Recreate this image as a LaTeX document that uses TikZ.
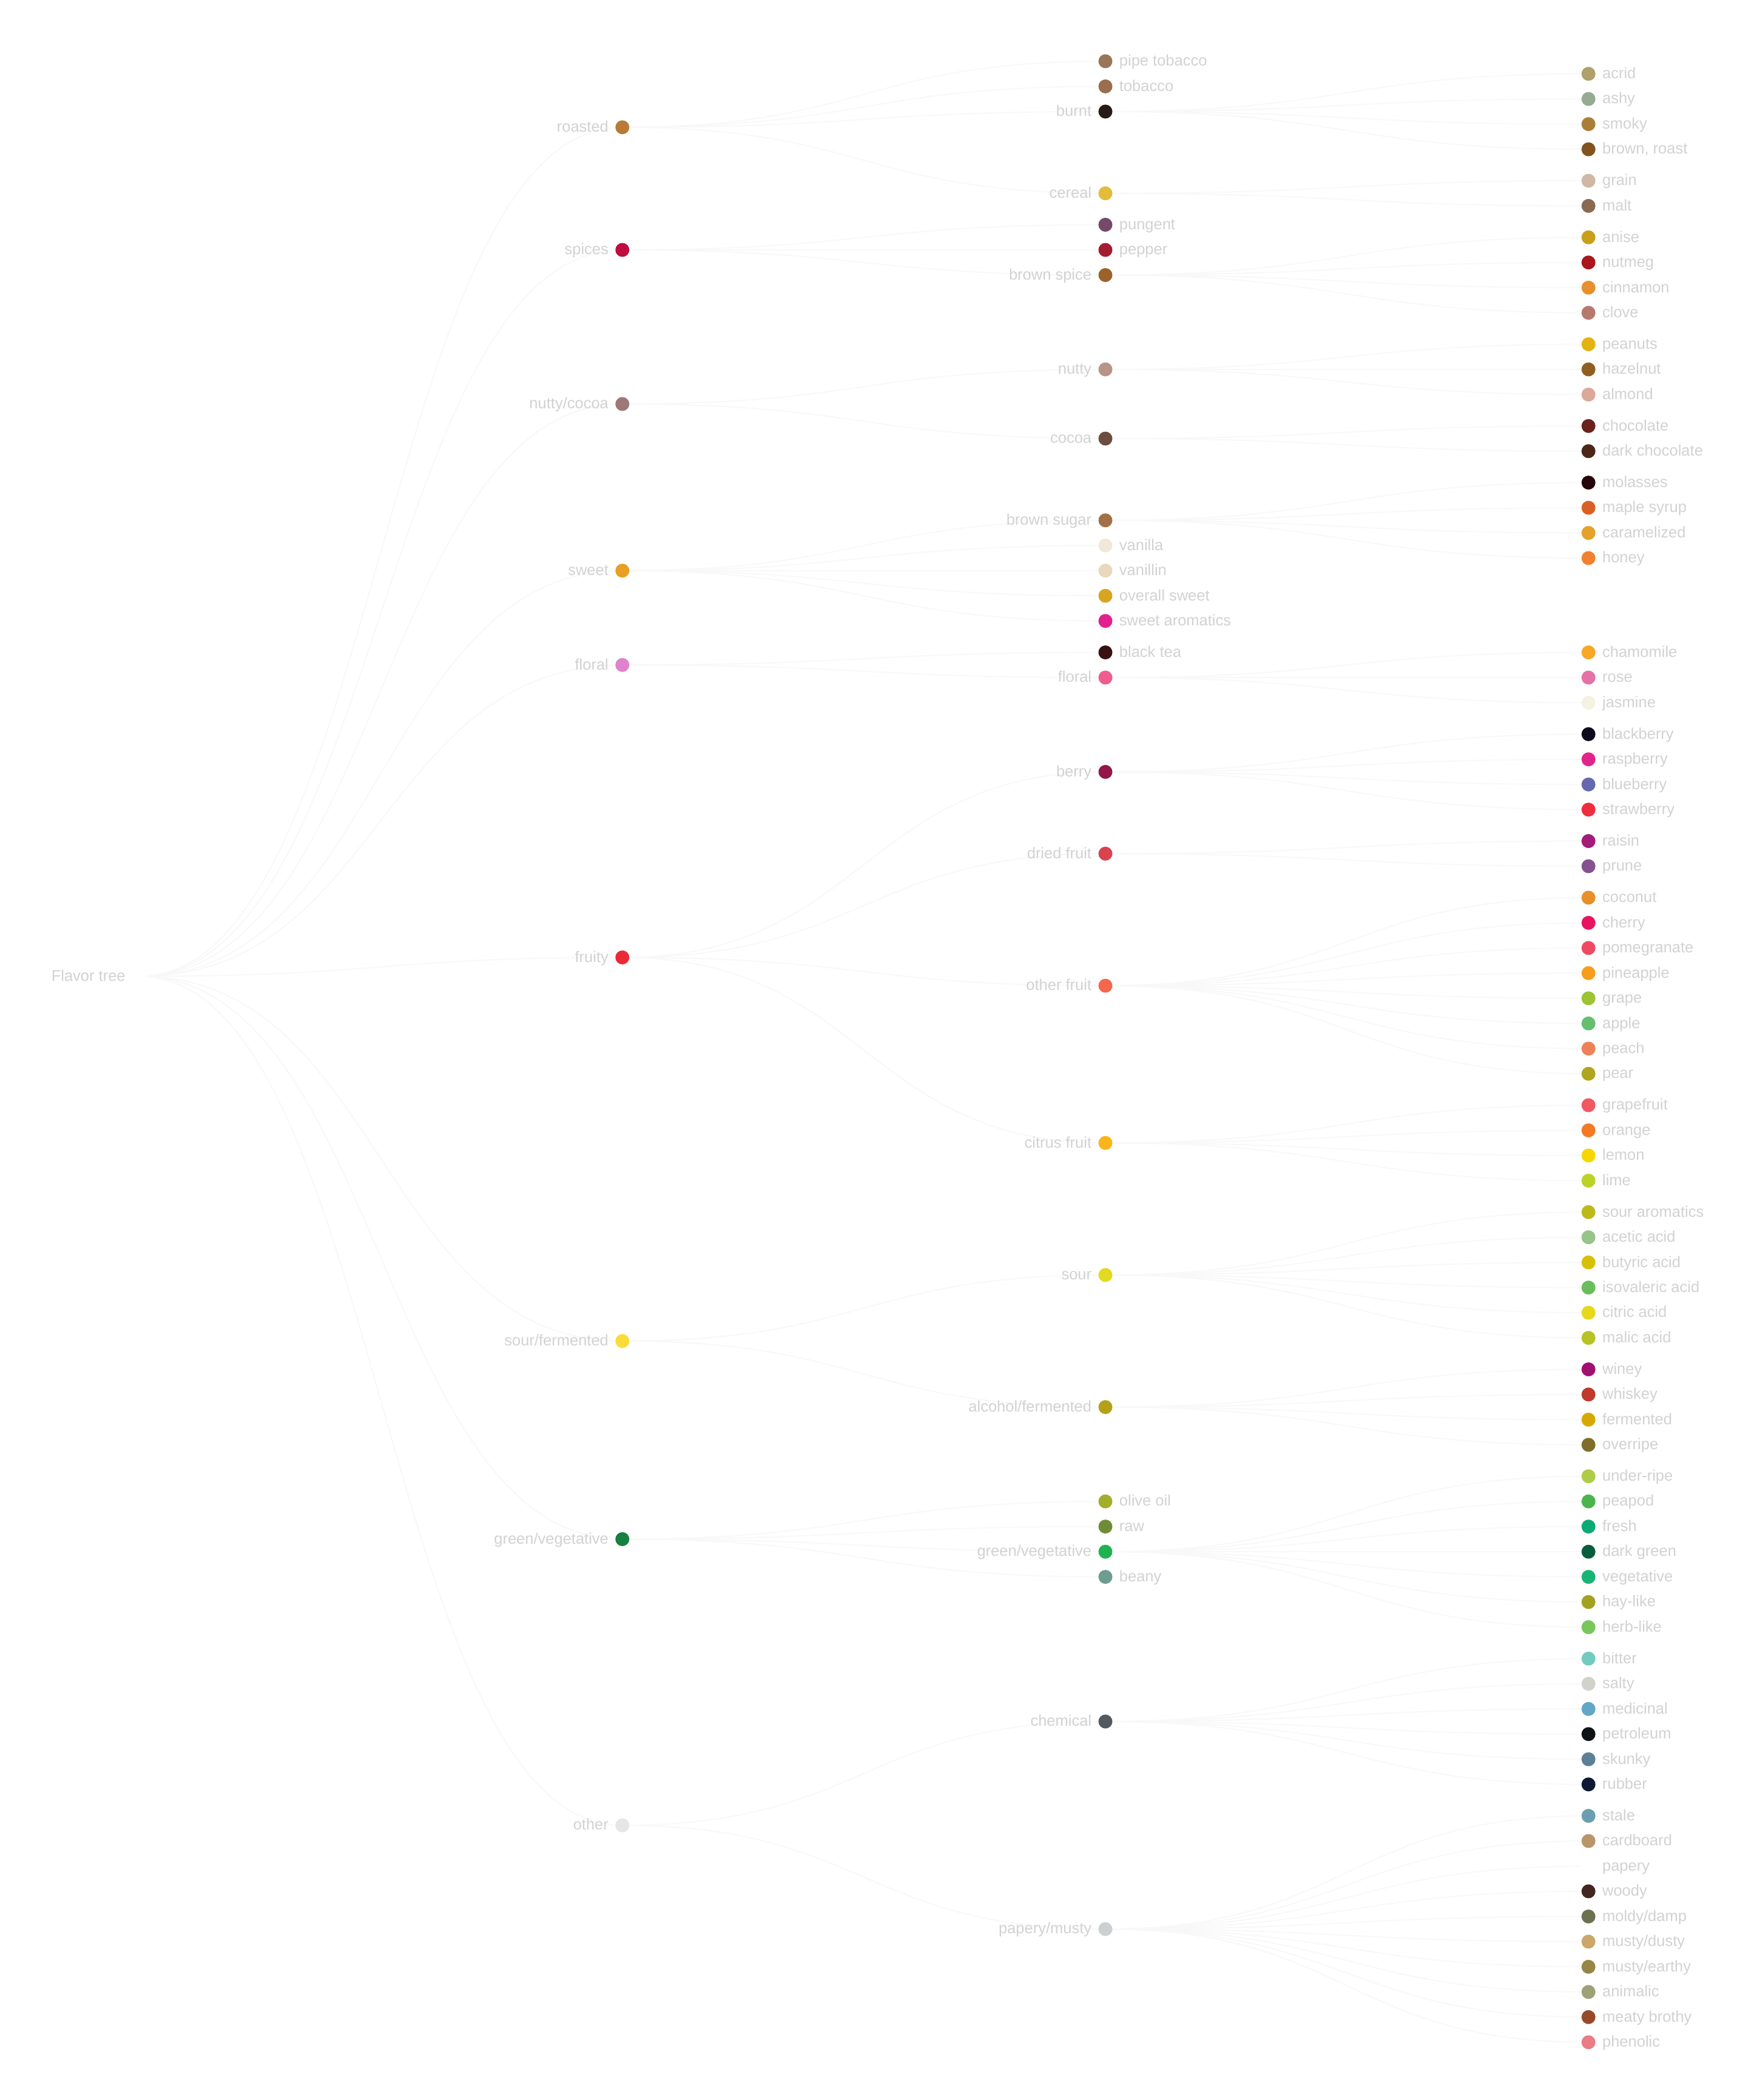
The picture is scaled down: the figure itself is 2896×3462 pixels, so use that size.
\documentclass[tikz,border=0pt]{standalone}
\usepackage{fontspec}
\setmainfont{Liberation Sans}
\usetikzlibrary{backgrounds}
\definecolor{textgray}{HTML}{D2D2D2}
\definecolor{linkgray}{HTML}{F8F8F8}
\def\YA{121.7}
\def\S{41.47}
\def\G{51.84}
\def\xR{229.6}
\def\xA{1025.8}
\def\xB{1822}
\def\xC{2618.2}
\tikzset{
  dot/.style={circle, minimum size=23pt, inner sep=0pt, draw=none},
  lbl/.style={font=\fontsize{25.5}{30}\selectfont, text=textgray, inner sep=0pt},
  link/.style={draw=linkgray, line width=2pt},
}
% right-labelled node: name, x, n, m, colour, text
\newcommand\nR[6]{\definecolor{c#1}{HTML}{#5}%
  \node[dot, fill=c#1] (#1) at (#2,{\YA+(#3)*\S+(#4)*\G}) {};%
  \node[lbl, anchor=base west] (#1t) at ([xshift=22.7pt,yshift=-7.8pt]#1.center) {#6};}
% left-labelled node
\newcommand\nL[6]{\definecolor{c#1}{HTML}{#5}%
  \node[dot, fill=c#1] (#1) at (#2,{\YA+(#3)*\S+(#4)*\G}) {};%
  \node[lbl, anchor=base east] (#1t) at ([xshift=-22.7pt,yshift=-7.8pt]#1.center) {#6};}
\newcommand\lk[2]{\draw[link] (#1.center) .. controls +(398,0) and +(-398,0) .. (#2.center);}
\begin{document}
\begin{tikzpicture}[x=1pt, y=-1pt]
\useasboundingbox (0,0) rectangle (2896,3462);
% root
\nL{root}{\xR}{26.5}{7.5}{FFFFFF}{Flavor tree}
% level 1
\nL{roasted}{\xA}{1.5}{0.5}{B97A3A}{roasted}
\nL{spices}{\xA}{4.5}{2}{BF0D41}{spices}
\nL{nuttycocoa}{\xA}{8.75}{3.5}{9E7877}{nutty/cocoa}
\nL{sweet}{\xA}{13.5}{5}{E99E24}{sweet}
\nL{floralA}{\xA}{16}{6}{E083CE}{floral}
\nL{fruity}{\xA}{24.5}{8.5}{EC2A37}{fruity}
\nL{sourferm}{\xA}{36}{11.5}{F9DC3A}{sour/fermented}
\nL{greenA}{\xA}{42}{13}{177F3F}{green/vegetative}
\nL{other}{\xA}{51.5}{14.5}{E6E6E6}{other}
% level 2
\nR{pipetob}{\xB}{-0.5}{0}{997756}{pipe tobacco}
\nR{tobacco}{\xB}{0.5}{0}{9A6E4F}{tobacco}
\nL{burnt}{\xB}{1.5}{0}{281A17}{burnt}
\nL{cereal}{\xB}{3.5}{1}{E2BC3A}{cereal}
\nR{pungent}{\xB}{3.5}{2}{744A68}{pungent}
\nR{pepper}{\xB}{4.5}{2}{A31C31}{pepper}
\nL{brownspice}{\xB}{5.5}{2}{9B622B}{brown spice}
\nL{nutty}{\xB}{8}{3}{B69488}{nutty}
\nL{cocoa}{\xB}{9.5}{4}{6B4D40}{cocoa}
\nL{brownsugar}{\xB}{11.5}{5}{A37147}{brown sugar}
\nR{vanilla}{\xB}{12.5}{5}{F0E8D8}{vanilla}
\nR{vanillin}{\xB}{13.5}{5}{E9D8BE}{vanillin}
\nR{overallsweet}{\xB}{14.5}{5}{D9A521}{overall sweet}
\nR{sweetarom}{\xB}{15.5}{5}{E22190}{sweet aromatics}
\nR{blacktea}{\xB}{15.5}{6}{3A1111}{black tea}
\nL{floralB}{\xB}{16.5}{6}{EF5C8E}{floral}
\nL{berry}{\xB}{19}{7}{941749}{berry}
\nL{dried}{\xB}{21}{8}{D9434E}{dried fruit}
\nL{otherfruit}{\xB}{25}{9}{F4674A}{other fruit}
\nL{citrus}{\xB}{30}{10}{FAB51C}{citrus fruit}
\nL{sour}{\xB}{34}{11}{E2D921}{sour}
\nL{alcohol}{\xB}{38}{12}{B4A117}{alcohol/fermented}
\nR{oliveoil}{\xB}{40.5}{13}{A3AE2A}{olive oil}
\nR{raw}{\xB}{41.5}{13}{6E8C38}{raw}
\nL{greenB}{\xB}{42.5}{13}{20B251}{green/vegetative}
\nR{beany}{\xB}{43.5}{13}{6E9D90}{beany}
\nL{chemical}{\xB}{48}{14}{525A5F}{chemical}
\nL{papery}{\xB}{55}{15}{CDD0D1}{papery/musty}
% level 3
\nR{acrid}{\xC}{0}{0}{B0A06B}{acrid}
\nR{ashy}{\xC}{1}{0}{96AB92}{ashy}
\nR{smoky}{\xC}{2}{0}{AB7E37}{smoky}
\nR{brownroast}{\xC}{3}{0}{80531F}{brown, roast}
\nR{grain}{\xC}{3}{1}{CFB8A5}{grain}
\nR{malt}{\xC}{4}{1}{8A6A50}{malt}
\nR{anise}{\xC}{4}{2}{C99F1B}{anise}
\nR{nutmeg}{\xC}{5}{2}{A8171C}{nutmeg}
\nR{cinnamon}{\xC}{6}{2}{E8902E}{cinnamon}
\nR{clove}{\xC}{7}{2}{B57A6D}{clove}
\nR{peanuts}{\xC}{7}{3}{E3B311}{peanuts}
\nR{hazelnut}{\xC}{8}{3}{915E22}{hazelnut}
\nR{almond}{\xC}{9}{3}{DCA899}{almond}
\nR{chocolate}{\xC}{9}{4}{6A231C}{chocolate}
\nR{darkchoc}{\xC}{10}{4}{4B2619}{dark chocolate}
\nR{molasses}{\xC}{10}{5}{24060B}{molasses}
\nR{maple}{\xC}{11}{5}{DA5F25}{maple syrup}
\nR{caramelized}{\xC}{12}{5}{E3A22A}{caramelized}
\nR{honey}{\xC}{13}{5}{F2812F}{honey}
\nR{chamomile}{\xC}{15.5}{6}{F8A826}{chamomile}
\nR{rose}{\xC}{16.5}{6}{E472A7}{rose}
\nR{jasmine}{\xC}{17.5}{6}{F4F2E0}{jasmine}
\nR{blackberry}{\xC}{17.5}{7}{0D0C1C}{blackberry}
\nR{raspberry}{\xC}{18.5}{7}{E2258A}{raspberry}
\nR{blueberry}{\xC}{19.5}{7}{6569AF}{blueberry}
\nR{strawberry}{\xC}{20.5}{7}{EF2D3E}{strawberry}
\nR{raisin}{\xC}{20.5}{8}{A21C7A}{raisin}
\nR{prune}{\xC}{21.5}{8}{84538F}{prune}
\nR{coconut}{\xC}{21.5}{9}{E68F2B}{coconut}
\nR{cherry}{\xC}{22.5}{9}{E91460}{cherry}
\nR{pomegranate}{\xC}{23.5}{9}{EE4B63}{pomegranate}
\nR{pineapple}{\xC}{24.5}{9}{F69D1E}{pineapple}
\nR{grape}{\xC}{25.5}{9}{9CC433}{grape}
\nR{apple}{\xC}{26.5}{9}{65BF6E}{apple}
\nR{peach}{\xC}{27.5}{9}{EF8159}{peach}
\nR{pear}{\xC}{28.5}{9}{B0A51E}{pear}
\nR{grapefruit}{\xC}{28.5}{10}{F05862}{grapefruit}
\nR{orange}{\xC}{29.5}{10}{F47922}{orange}
\nR{lemon}{\xC}{30.5}{10}{F6D600}{lemon}
\nR{lime}{\xC}{31.5}{10}{BDD227}{lime}
\nR{souraro}{\xC}{31.5}{11}{BDB91C}{sour aromatics}
\nR{acetic}{\xC}{32.5}{11}{98C38A}{acetic acid}
\nR{butyric}{\xC}{33.5}{11}{D6C106}{butyric acid}
\nR{isovaleric}{\xC}{34.5}{11}{6ABD5B}{isovaleric acid}
\nR{citric}{\xC}{35.5}{11}{E6D81A}{citric acid}
\nR{malic}{\xC}{36.5}{11}{B7C324}{malic acid}
\nR{winey}{\xC}{36.5}{12}{A11071}{winey}
\nR{whiskey}{\xC}{37.5}{12}{BF3A2C}{whiskey}
\nR{fermented}{\xC}{38.5}{12}{D6A804}{fermented}
\nR{overripe}{\xC}{39.5}{12}{7F6D2A}{overripe}
\nR{underripe}{\xC}{39.5}{13}{AECC45}{under-ripe}
\nR{peapod}{\xC}{40.5}{13}{4BB44C}{peapod}
\nR{fresh}{\xC}{41.5}{13}{0AAA74}{fresh}
\nR{darkgreen}{\xC}{42.5}{13}{0A5D3C}{dark green}
\nR{vegetative}{\xC}{43.5}{13}{19B474}{vegetative}
\nR{haylike}{\xC}{44.5}{13}{A4A122}{hay-like}
\nR{herblike}{\xC}{45.5}{13}{79C65A}{herb-like}
\nR{bitter}{\xC}{45.5}{14}{72CBBF}{bitter}
\nR{salty}{\xC}{46.5}{14}{D1D3CB}{salty}
\nR{medicinal}{\xC}{47.5}{14}{62A7C6}{medicinal}
\nR{petroleum}{\xC}{48.5}{14}{0E1415}{petroleum}
\nR{skunky}{\xC}{49.5}{14}{5C8096}{skunky}
\nR{rubber}{\xC}{50.5}{14}{0E1A33}{rubber}
\nR{stale}{\xC}{50.5}{15}{6C9EB1}{stale}
\nR{cardboard}{\xC}{51.5}{15}{B9956A}{cardboard}
\nR{paperyleaf}{\xC}{52.5}{15}{FFFFFF}{papery}
\nR{woody}{\xC}{53.5}{15}{432620}{woody}
\nR{moldy}{\xC}{54.5}{15}{6C7250}{moldy/damp}
\nR{mustydusty}{\xC}{55.5}{15}{CBA76B}{musty/dusty}
\nR{mustyearthy}{\xC}{56.5}{15}{978645}{musty/earthy}
\nR{animalic}{\xC}{57.5}{15}{9EA076}{animalic}
\nR{meaty}{\xC}{58.5}{15}{974A29}{meaty brothy}
\nR{phenolic}{\xC}{59.5}{15}{E97C87}{phenolic}
% connectors
\begin{scope}[on background layer]
\fill[white] (0,0) rectangle (2896,3462);
\foreach \c in {roasted,spices,nuttycocoa,sweet,floralA,fruity,sourferm,greenA,other} {\lk{root}{\c}}
\foreach \c in {pipetob,tobacco,burnt,cereal} {\lk{roasted}{\c}}
\foreach \c in {pungent,pepper,brownspice} {\lk{spices}{\c}}
\foreach \c in {nutty,cocoa} {\lk{nuttycocoa}{\c}}
\foreach \c in {brownsugar,vanilla,vanillin,overallsweet,sweetarom} {\lk{sweet}{\c}}
\foreach \c in {blacktea,floralB} {\lk{floralA}{\c}}
\foreach \c in {berry,dried,otherfruit,citrus} {\lk{fruity}{\c}}
\foreach \c in {sour,alcohol} {\lk{sourferm}{\c}}
\foreach \c in {oliveoil,raw,greenB,beany} {\lk{greenA}{\c}}
\foreach \c in {chemical,papery} {\lk{other}{\c}}
\foreach \c in {acrid,ashy,smoky,brownroast} {\lk{burnt}{\c}}
\foreach \c in {grain,malt} {\lk{cereal}{\c}}
\foreach \c in {anise,nutmeg,cinnamon,clove} {\lk{brownspice}{\c}}
\foreach \c in {peanuts,hazelnut,almond} {\lk{nutty}{\c}}
\foreach \c in {chocolate,darkchoc} {\lk{cocoa}{\c}}
\foreach \c in {molasses,maple,caramelized,honey} {\lk{brownsugar}{\c}}
\foreach \c in {chamomile,rose,jasmine} {\lk{floralB}{\c}}
\foreach \c in {blackberry,raspberry,blueberry,strawberry} {\lk{berry}{\c}}
\foreach \c in {raisin,prune} {\lk{dried}{\c}}
\foreach \c in {coconut,cherry,pomegranate,pineapple,grape,apple,peach,pear} {\lk{otherfruit}{\c}}
\foreach \c in {grapefruit,orange,lemon,lime} {\lk{citrus}{\c}}
\foreach \c in {souraro,acetic,butyric,isovaleric,citric,malic} {\lk{sour}{\c}}
\foreach \c in {winey,whiskey,fermented,overripe} {\lk{alcohol}{\c}}
\foreach \c in {underripe,peapod,fresh,darkgreen,vegetative,haylike,herblike} {\lk{greenB}{\c}}
\foreach \c in {bitter,salty,medicinal,petroleum,skunky,rubber} {\lk{chemical}{\c}}
\foreach \c in {stale,cardboard,paperyleaf,woody,moldy,mustydusty,mustyearthy,animalic,meaty,phenolic} {\lk{papery}{\c}}
\end{scope}
\end{tikzpicture}
\end{document}
